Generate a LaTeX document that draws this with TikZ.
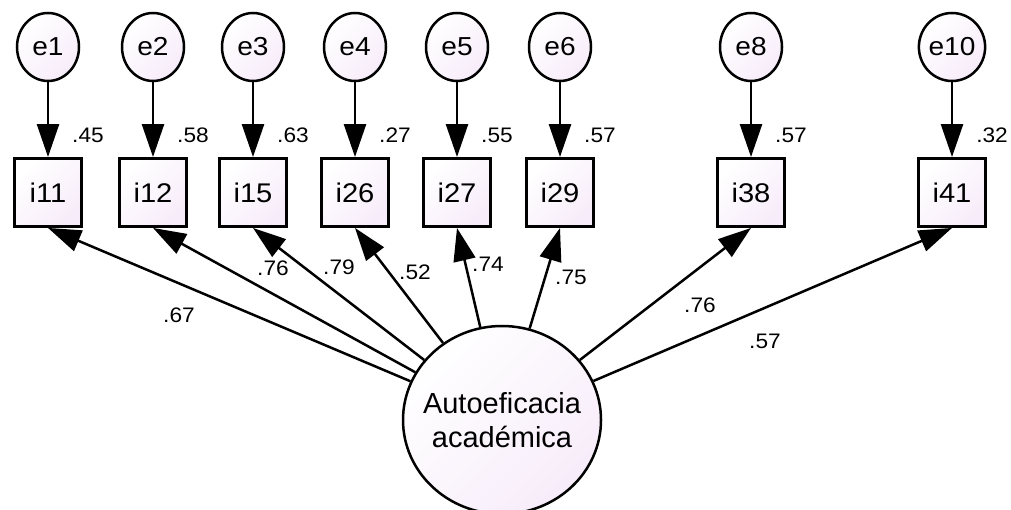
\documentclass[tikz,border=0pt]{standalone}
\usepackage{fontspec}
\setmainfont{Liberation Sans}
\newfontfamily\widefont[FakeStretch=1.08]{Liberation Sans}
\usetikzlibrary{positioning, arrows, arrows.meta, shapes.geometric, calc}

\definecolor{amosfill}{RGB}{247,236,250}

\begin{document}
\begin{tikzpicture}[x=1pt, y=-1pt,
        shaded/.style={top color=white, bottom color=amosfill, shading angle=45},
        errvar/.style={draw, ellipse, line width=2.5pt, shaded,
            minimum width=62pt, minimum height=68pt, inner sep=0pt,
            font=\widefont\fontsize{26}{30}\selectfont},
        obs/.style={draw, rectangle, line width=2.9pt, shaded,
            minimum width=67pt, minimum height=68pt, inner sep=0pt,
            font=\widefont\fontsize{27}{32}\selectfont},
        latent/.style={draw, ellipse, line width=2.5pt, shaded,
            minimum width=198pt, minimum height=188pt, inner ysep=0pt, inner xsep=-9pt,
            align=center, font=\fontsize{29}{34}\selectfont},
        coef/.style={inner sep=0pt, font=\widefont\fontsize{21}{24}\selectfont},
        regline/.style={line width=2.5pt, -{Triangle[length=33pt, width=22pt]}}
    ]
        \useasboundingbox (0,0) rectangle (1011,510);

        % latent factor
        \node[latent] (ae) at (502,420) {Autoeficacia\\acad\'emica};

        % items with their error terms
        \foreach \x/\i/\e/\r in {48/11/1/.45, 153/12/2/.58, 253/15/3/.63,
                                 355/26/4/.27, 457/27/5/.55, 560/29/6/.57,
                                 751/38/8/.57, 952/41/10/.32}
        {
            \node[errvar] (e\e) at (\x,47) {e\e};
            \node[obs] (i\i) at (\x,192.5) {i\i};
            \draw[regline] (e\e) -- (i\i);
            \node[coef] (r\i) at (\x+40,135) {\r};
        }

        % loadings
        \foreach \i/\w/\lx/\ly in {11/.67/179/315, 12/.76/273/268, 15/.79/339/267,
                                   26/.52/415/272, 27/.74/488/264, 29/.75/571/277,
                                   38/.76/700/305, 41/.57/765/341}
        {
            \draw[regline] (ae) -- (i\i.south);
            \node[coef] (w\i) at (\lx,\ly) {\w};
        }
    \end{tikzpicture}
\end{document}
